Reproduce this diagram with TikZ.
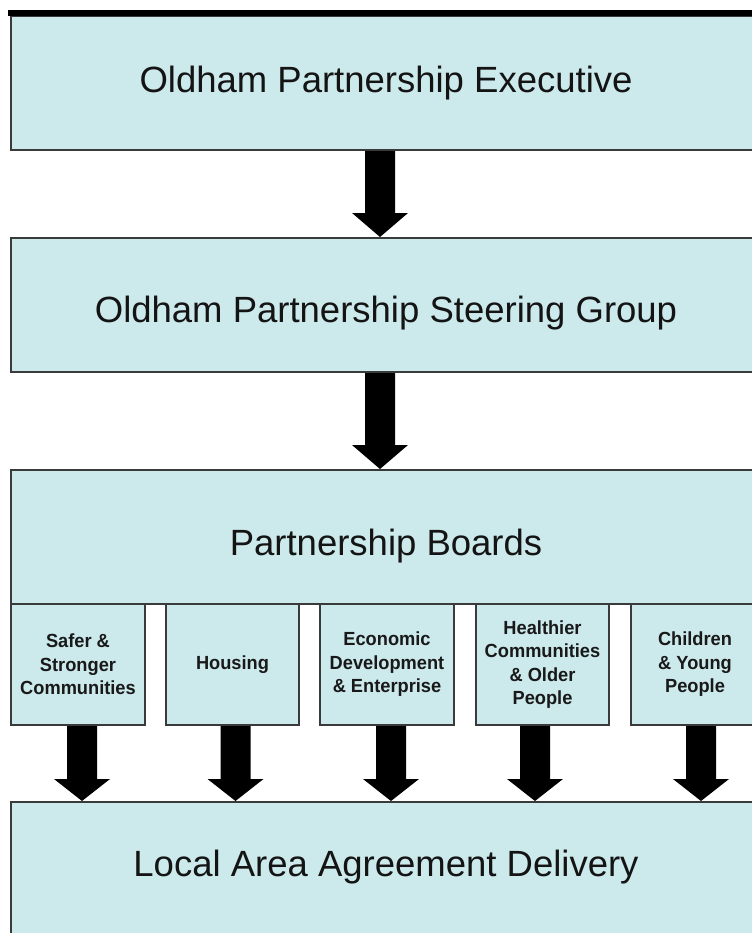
\documentclass[tikz,border=0pt]{standalone}
\usepackage{fontspec}
\setmainfont{Liberation Sans}
\newfontfamily\smallfont[FakeStretch=0.96]{Liberation Sans}
\usetikzlibrary{calc}
\definecolor{boxfill}{HTML}{CCE9EC}
\definecolor{boxline}{HTML}{3A3A3A}
\newcommand\fatarrow[3]{%
  \fill[black] let \p1=(#1), \p2=(#2) in
    (\x1-15bp,\y1) -- (\x1+15bp,\y1) -- (\x1+15bp,\y2+#3) -- (\x1+28bp,\y2+#3)
    -- (\x1,\y2) -- (\x1-28bp,\y2+#3) -- (\x1-15bp,\y2+#3) -- cycle;}
\begin{document}
\begin{tikzpicture}[x=1bp,y=-1bp,
  box/.style={draw=boxline, line width=2bp, fill=boxfill, inner sep=0pt, anchor=north west},
  bigbox/.style={box, minimum width=760bp, minimum height=134bp},
  smallbox/.style={box, minimum height=121bp, align=center,
    font=\smallfont\bfseries\fontsize{19bp}{23.5bp}\selectfont, text=black!90},
  bigtext/.style={anchor=base, inner sep=0pt, font=\fontsize{36.5bp}{40bp}\selectfont, text=black!92}]
\useasboundingbox (0,0) rectangle (752,933);
\clip (0,0) rectangle (752,933);
% main boxes
\node[bigbox] (b1) at (10,15) {};
\node[bigbox] (b2) at (10,237) {};
\node[bigbox] (b3) at (10,469) {};
\node[bigbox, minimum height=144bp] (b4) at (10,801) {};
\fill[black] (8,9.5) rectangle (760,16);
% sub boxes
\node[smallbox, minimum width=134bp] (s1) at (10,603) {Safer \&\\Stronger\\Communities};
\node[smallbox, minimum width=133bp] (s2) at (165,603) {Housing};
\node[smallbox, minimum width=134bp] (s3) at (319,603) {Economic\\Development\\\& Enterprise};
\node[smallbox, minimum width=133bp] (s4) at (475,603) {Healthier\\Communities\\\& Older\\People};
\node[smallbox, minimum width=128bp] (s5) at (630,603) {Children\\\& Young\\People};
% titles
\node[bigtext] (t1) at (386,92) {Oldham Partnership Executive};
\node[bigtext] (t2) at (386,322) {Oldham Partnership Steering Group};
\node[bigtext] (t3) at (386,555) {Partnership Boards};
\node[bigtext] (t4) at (386,876) {Local Area Agreement Delivery};
% arrows
\fatarrow{380,0 |- b1.south}{b2.north}{24bp}
\fatarrow{380,0 |- b2.south}{b3.north}{24bp}
\fatarrow{82,0 |- s1.south}{b4.north}{22bp}
\fatarrow{235.5,0 |- s2.south}{b4.north}{22bp}
\fatarrow{391,0 |- s3.south}{b4.north}{22bp}
\fatarrow{535,0 |- s4.south}{b4.north}{22bp}
\fatarrow{701,0 |- s5.south}{b4.north}{22bp}
\end{tikzpicture}
\end{document}
